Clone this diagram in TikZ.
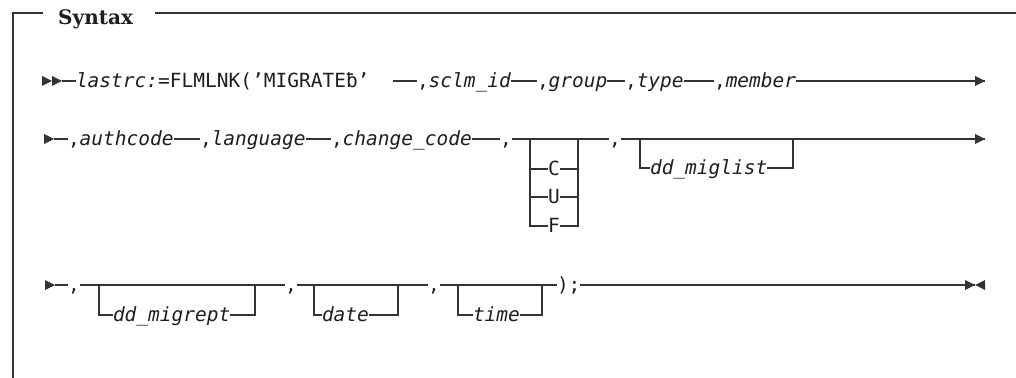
\documentclass[tikz,border=0pt]{standalone}
\usepackage{fontspec}
\newfontfamily\mono{DejaVu Sans Mono}[ItalicFont=* Oblique]
\newfontfamily\synfont{DejaVu Serif}
\definecolor{railc}{HTML}{333333}
\definecolor{txtc}{HTML}{1E1E1E}
\tikzset{
 rail/.style={line width=1.4pt, draw=railc},
 frame/.style={line width=1.5pt, draw=railc},
 lbl/.style={inner sep=0pt, outer sep=0pt, anchor=west, text height=13pt, text depth=0pt,
   text=txtc, font=\mono\fontsize{19.5}{22}\selectfont},
 opt/.style={lbl, anchor=center},
 rtri/.pic={\fill[railc] (-10,-5) -- (0,0) -- (-10,5) -- cycle;},
 ltri/.pic={\fill[railc] (10,-5) -- (0,0) -- (10,5) -- cycle;},
}
\begin{document}
\begin{tikzpicture}[x=1pt,y=-1pt]
\useasboundingbox (0,0) rectangle (1016,377);
% frame
\node[inner sep=0pt, anchor=base west, font=\synfont\fontsize{20}{24}\selectfont\bfseries, text=txtc] (syn) at (58,25) {Syntax};
\draw[frame] (43,13) -- (13,13) -- (13,380);
\draw[frame] (155,13) -- (1020,13);

% ---------- line 1 ----------
\pic at (52,81) {rtri};
\pic at (62,81) {rtri};
\coordinate (s1) at (62,81);
\node[lbl] (n1) at (76,81) {\textit{lastrc:}=FLMLNK(’MIGRATEƀ’};
\coordinate (g1) at (393,81);
\node[lbl] (n2) at (417,81) {,\textit{sclm\_id}};
\node[lbl] (n3) at (537,81) {,\textit{group}};
\node[lbl] (n4) at (625,81) {,\textit{type}};
\node[lbl] (n5) at (714,81) {,\textit{member}};
\coordinate (e1) at (985,81);
\draw[rail] (s1) -- (n1.west);
\draw[rail] (g1) -- (n2.west);
\draw[rail] (n2.east) -- (n3.west);
\draw[rail] (n3.east) -- (n4.west);
\draw[rail] (n4.east) -- (n5.west);
\draw[rail] (n5.east) -- (e1);
\pic at (e1) {rtri};

% ---------- line 2 ----------
\pic at (54,139) {rtri};
\coordinate (s2) at (54,139);
\node[lbl] (n6) at (68,139) {,\textit{authcode}};
\node[lbl] (n7) at (200,139) {,\textit{language}};
\node[lbl] (n8) at (331,139) {,\textit{change\_code}};
\node[lbl] (n9) at (500,139) {,};
\coordinate (cL) at (530,139);
\coordinate (cR) at (578,139);
\node[opt] (oC) at (554,169) {C};
\node[opt] (oU) at (554,197) {U};
\node[opt] (oF) at (554,226) {F};
\node[lbl] (n10) at (609,139) {,};
\coordinate (bL) at (640,139);
\coordinate (bR) at (793,139);
\node[lbl] (n11) at (650,168) {\textit{dd\_miglist}};
\coordinate (e2) at (985,139);
\draw[rail] (s2) -- (n6.west);
\draw[rail] (n6.east) -- (n7.west);
\draw[rail] (n7.east) -- (n8.west);
\draw[rail] (n8.east) -- (n9.west);
\draw[rail] (n9.east) -- (n10.west);
\draw[rail] (cL) |- (oF.west);
\draw[rail] (oF.east) -| (cR);
\draw[rail] (oC.west -| cL) -- (oC.west);
\draw[rail] (oC.east) -- (oC.east -| cR);
\draw[rail] (oU.west -| cL) -- (oU.west);
\draw[rail] (oU.east) -- (oU.east -| cR);
\draw[rail] (n10.east) -- (e2);
\draw[rail] (bL) |- (n11.west);
\draw[rail] (n11.east) -| (bR);
\pic at (e2) {rtri};

% ---------- line 3 ----------
\pic at (55,285) {rtri};
\coordinate (s3) at (55,285);
\node[lbl] (n12) at (68,285) {,};
\coordinate (aL) at (99,285);
\coordinate (aR) at (255,285);
\node[lbl] (n13) at (113,315) {\textit{dd\_migrept}};
\node[lbl] (n14) at (285,285) {,};
\coordinate (dL) at (314,285);
\coordinate (dR) at (398,285);
\node[lbl] (n15) at (322,315) {\textit{date}};
\node[lbl] (n16) at (428,285) {,};
\coordinate (tL) at (458,285);
\coordinate (tR) at (542,285);
\node[lbl] (n17) at (473,315) {\textit{time}};
\node[lbl] (n18) at (557,285) {);};
\coordinate (e3) at (975,285);
\draw[rail] (s3) -- (n12.west);
\draw[rail] (n12.east) -- (n14.west);
\draw[rail] (n14.east) -- (n16.west);
\draw[rail] (n16.east) -- (n18.west);
\draw[rail] (aL) |- (n13.west);
\draw[rail] (n13.east) -| (aR);
\draw[rail] (dL) |- (n15.west);
\draw[rail] (n15.east) -| (dR);
\draw[rail] (tL) |- (n17.west);
\draw[rail] (n17.east) -| (tR);
\draw[rail] (n18.east) -- (e3);
\pic at (e3) {rtri};
\pic at (e3) {ltri};
\end{tikzpicture}
\end{document}
